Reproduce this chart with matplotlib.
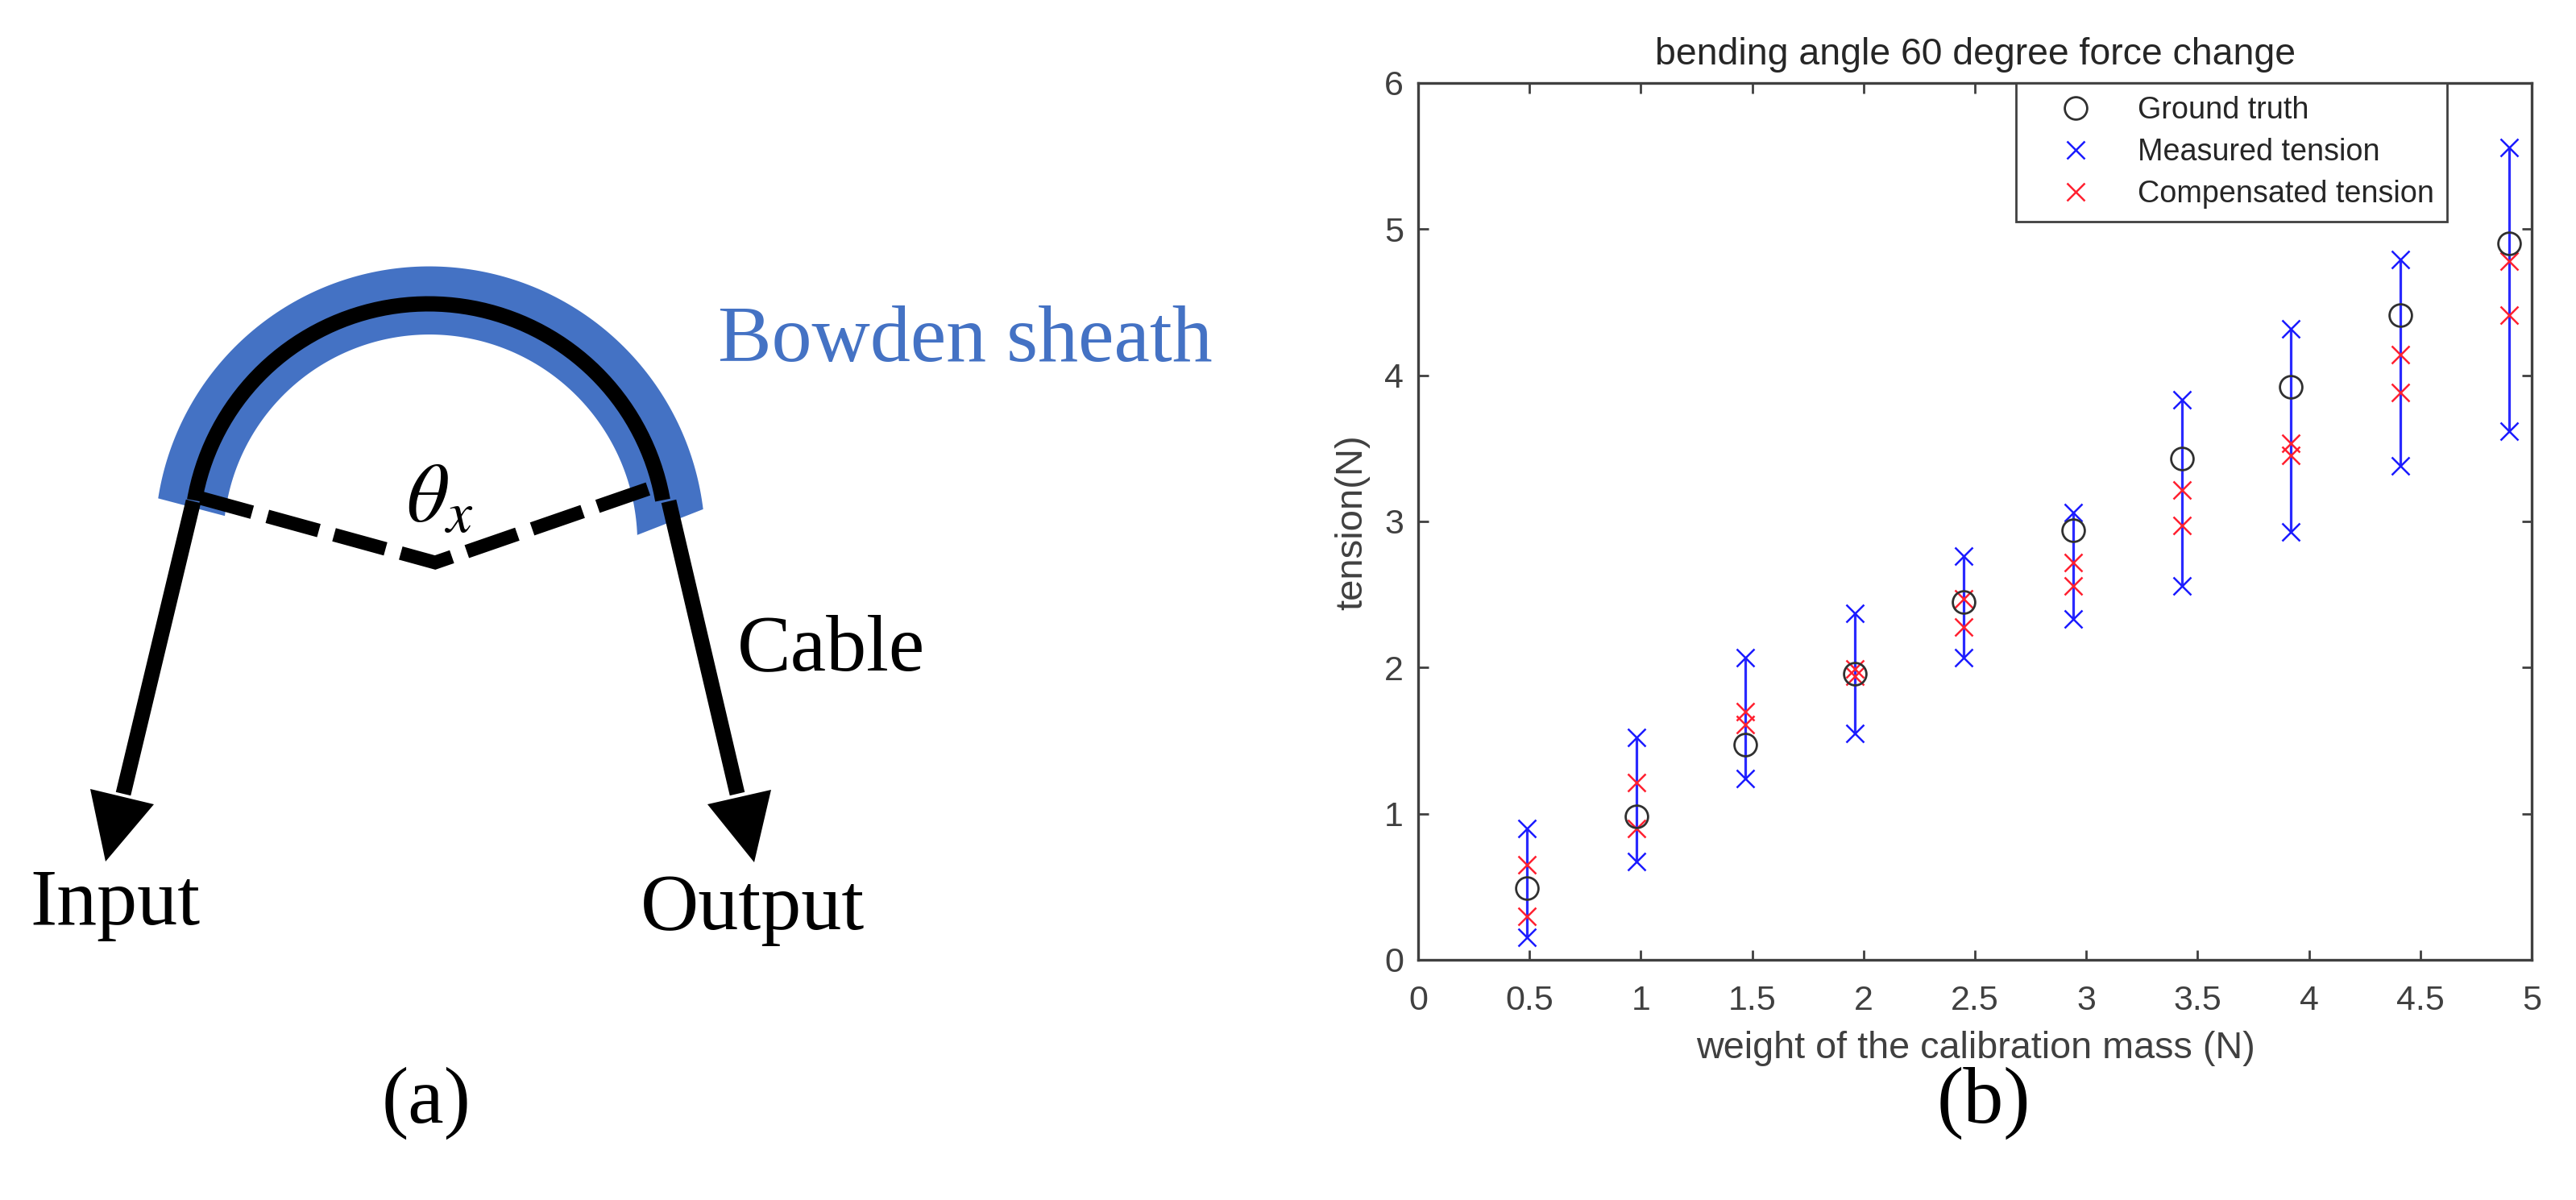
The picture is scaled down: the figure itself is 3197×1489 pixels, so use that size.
import numpy as np
import matplotlib
matplotlib.use("Agg")
import matplotlib.pyplot as plt
from matplotlib.patches import Polygon

W, H = 3197, 1489
DPI = 100
plt.rcParams['mathtext.fontset'] = 'stix'

# ---- data (b) ----
weights = [0.49, 0.98, 1.47, 1.96, 2.45, 2.94, 3.43, 3.92, 4.41, 4.90]
truth = [0.49, 0.98, 1.47, 1.96, 2.45, 2.94, 3.43, 3.92, 4.41, 4.90]
measured_low = [0.155, 0.675, 1.24, 1.55, 2.07, 2.33, 2.56, 2.93, 3.38, 3.62]
measured_high = [0.90, 1.52, 2.07, 2.37, 2.765, 3.06, 3.83, 4.32, 4.79, 5.56]
comp_low = [0.30, 0.90, 1.61, 1.94, 2.28, 2.56, 2.97, 3.45, 3.885, 4.41]
comp_high = [0.65, 1.215, 1.70, 1.99, 2.47, 2.72, 3.215, 3.535, 4.14, 4.78]
xticks = [0, 0.5, 1, 1.5, 2, 2.5, 3, 3.5, 4, 4.5, 5]
xticklabels = ['0', '0.5', '1', '1.5', '2', '2.5', '3', '3.5', '4', '4.5', '5']
yticks = [0, 1, 2, 3, 4, 5, 6]

# ---- diagram (a), image pixel geometry ----
arc_center = (531, 672)
outer_r, outer_a = (344, 339), (6.7, 170.9)
inner_r, inner_a = (260, 254), (1.8, 172.8)
cable_r, cable_a = (296, 294), (10.0, 170.0)
left_cable = [(240, 622), (153, 985)]
right_cable = [(830, 622), (915, 985)]
left_head = [(131, 1069), (112, 979), (191, 998)]
right_head = [(936, 1070), (878, 998), (957, 980)]
dash_path = [(249, 618), (540, 698), (809, 605)]

GREY = '#404040'
fig = plt.figure(figsize=(W / DPI, H / DPI), dpi=DPI, facecolor='white')

# panel (a)
bg = fig.add_axes([0, 0, 1, 1])
bg.set_xlim(0, W)
bg.set_ylim(H, 0)
bg.axis('off')


def arc(r, a0, a1):
    t = np.radians(np.linspace(a0, a1, 160))
    rr = np.linspace(r[0], r[1], 160)
    return arc_center[0] + rr * np.cos(t), arc_center[1] - rr * np.sin(t)


ox, oy = arc(outer_r, *outer_a)
ix, iy = arc(inner_r, *inner_a)
bg.add_patch(Polygon(np.r_[np.c_[ox, oy], np.c_[ix, iy][::-1]], closed=True,
                     fc='#4472C4', ec='none'))
cx, cy = arc(cable_r, *cable_a)
px = 0.72
bg.plot(cx, cy, color='black', lw=19 * px, solid_capstyle='butt')
bg.plot(*zip(*left_cable), color='black', lw=19 * px, solid_capstyle='butt')
bg.plot(*zip(*right_cable), color='black', lw=19 * px, solid_capstyle='butt')
bg.add_patch(Polygon(left_head, closed=True, fc='black', ec='none'))
bg.add_patch(Polygon(right_head, closed=True, fc='black', ec='none'))
bg.plot(*zip(*dash_path), color='black', lw=17 * px, dashes=(3.9, 1.15),
        dash_capstyle='butt', dash_joinstyle='miter')

serif = 'Liberation Serif'
fs = 72
bg.text(891, 448, 'Bowden sheath', family=serif, fontsize=fs, color='#4472C4', va='baseline')
bg.text(915, 831, 'Cable', family=serif, fontsize=fs, color='black', va='baseline')
bg.text(37, 1147, 'Input', family=serif, fontsize=fs, color='black', va='baseline')
bg.text(795, 1153, 'Output', family=serif, fontsize=fs, color='black', va='baseline')
bg.text(546, 619, r'$\theta_x$', fontsize=74, color='black', ha='center', va='center')
bg.text(529, 1369, '(a)', family=serif, fontsize=fs, color='black', ha='center', va='center')
bg.text(2462, 1369, '(b)', family=serif, fontsize=fs, color='black', ha='center', va='center')

# panel (b)
L, R, T, B = 1760, 3142, 103, 1191
ax = fig.add_axes([L / W, 1 - B / H, (R - L) / W, (B - T) / H])
ax.set_xlim(0, 5)
ax.set_ylim(0, 6)
ax.vlines(weights, measured_low, measured_high, color='#2a2aff', lw=3.2 * px, zorder=2)
m_line, = ax.plot(weights + weights, measured_low + measured_high, ls='none', marker='x',
                  color='#1a1aff', ms=16, mew=1.8, label='Measured tension', zorder=3)
c_line, = ax.plot(weights + weights, comp_low + comp_high, ls='none', marker='x',
                  color='#ff2030', ms=16, mew=1.8, label='Compensated tension', zorder=4)
g_line, = ax.plot(weights, truth, ls='none', marker='o', mfc='none', mec='#303030',
                  ms=20, mew=2.0, label='Ground truth', zorder=5)

sans = 'Liberation Sans'
ax.set_xticks(xticks)
ax.set_xticklabels(xticklabels)
ax.set_yticks(yticks)
ax.tick_params(axis='both', which='major', direction='in', top=True, right=True, length=9,
               width=2, color=GREY, labelcolor=GREY, labelsize=31)
ax.tick_params(axis='x', pad=22)
ax.tick_params(axis='y', pad=13)
for lab in ax.get_xticklabels() + ax.get_yticklabels():
    lab.set_family(sans)
for s in ax.spines.values():
    s.set_color(GREY)
    s.set_linewidth(2.4)

fig.text(2452 / W, 1 - 1301 / H, 'weight of the calibration mass (N)', family=sans,
         fontsize=33.7, color=GREY, ha='center', va='center')
fig.text(1678 / W, 1 - 648 / H, 'tension(N)', family=sans, fontsize=34, color=GREY,
         rotation=90, ha='center', va='center')
fig.text(2452 / W, 1 - 68 / H, 'bending angle 60 degree force change', family=sans,
         fontsize=33.4, color='#262626', ha='center', va='center')

leg = ax.legend(handles=[g_line, m_line, c_line], loc='upper left',
                bbox_to_anchor=((2502 - L) / (R - L), 1.0), borderaxespad=0, fancybox=False,
                framealpha=1, edgecolor=GREY, prop={'family': sans, 'size': 27.2},
                labelspacing=0.43, handletextpad=0.52, handlelength=3.07, borderpad=0.42)
leg.get_frame().set_linewidth(2)
for t in leg.get_texts():
    t.set_color('#262626')

fig.savefig('out.png', dpi=DPI, facecolor='white')
